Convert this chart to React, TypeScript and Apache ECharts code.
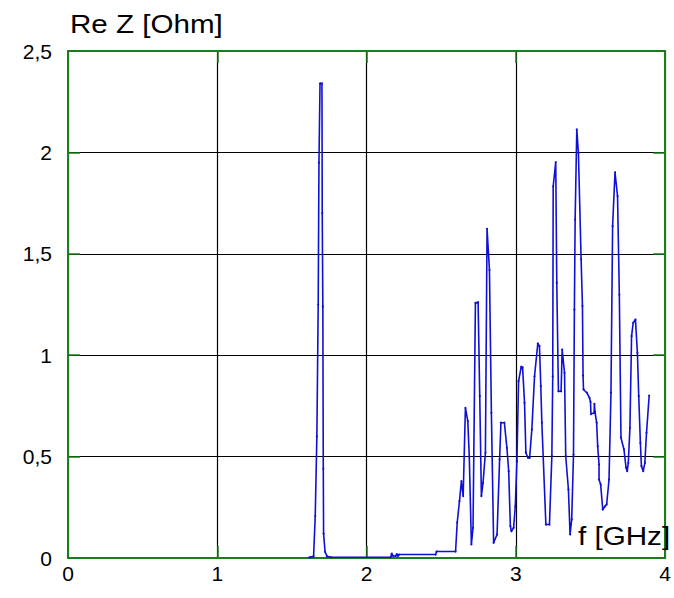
import React, { useEffect, useRef } from "react";
import * as echarts from "echarts";

// Frequency [GHz]
const freq: number[] = [
  1.616, 1.645, 1.656, 1.667, 1.676, 1.681, 1.688, 1.701, 1.703, 1.707, 1.71, 1.712, 1.722, 1.735, 1.76,
  2.162, 2.168, 2.177, 2.195, 2.202, 2.21, 2.217, 2.462, 2.469, 2.596,
  2.607, 2.622, 2.635, 2.647, 2.662, 2.678, 2.688, 2.702, 2.713, 2.729, 2.747, 2.758, 2.769, 2.78, 2.796,
  2.807, 2.823, 2.836, 2.851, 2.874, 2.891, 2.9, 2.923, 2.94, 2.952, 2.963, 2.97, 2.985, 2.996,
  3.007, 3.018, 3.036, 3.045, 3.058, 3.067, 3.081, 3.092, 3.107, 3.125, 3.147, 3.158, 3.167, 3.174,
  3.201, 3.225, 3.241, 3.247, 3.25, 3.267, 3.274, 3.285, 3.303, 3.31, 3.326, 3.334, 3.352, 3.363,
  3.374, 3.386, 3.392, 3.397, 3.408, 3.419, 3.437, 3.446, 3.45, 3.453, 3.475, 3.493, 3.5, 3.503,
  3.524, 3.526, 3.53, 3.541, 3.548, 3.557, 3.557, 3.568, 3.582, 3.597, 3.608, 3.624, 3.637, 3.648,
  3.664, 3.681, 3.693, 3.704, 3.724, 3.738, 3.746, 3.753, 3.764, 3.775, 3.786, 3.801, 3.814, 3.823,
  3.834, 3.841, 3.853, 3.864, 3.875, 3.893,
];

// Re Z [Ohm]
const reZ: number[] = [
  0.003, 0.008, 0.206, 0.6, 1.25, 1.949, 2.34, 2.34, 1.7, 1.24, 0.44, 0.12, 0.03, 0.008, 0.004,
  0.004, 0.022, 0.01, 0.01, 0.019, 0.01, 0.017, 0.017, 0.032, 0.032,
  0.174, 0.28, 0.379, 0.305, 0.74, 0.675, 0.5, 0.067, 0.149, 1.258, 1.261, 0.798, 0.305, 0.371, 0.519,
  1.623, 1.42, 0.716, 0.075, 0.116, 0.486, 0.667, 0.667, 0.543, 0.428, 0.157, 0.132, 0.149, 0.255,
  0.477, 0.872, 0.943, 0.94, 0.765, 0.519, 0.494, 0.494, 0.634, 0.896, 1.058, 1.045, 0.847, 0.667,
  0.165, 0.165, 0.502, 0.896, 1.833, 1.952, 1.357, 0.822, 0.822, 1.028, 0.913, 0.502, 0.338, 0.116,
  0.19, 0.51, 1.225, 1.669, 2.113, 1.998, 1.472, 1.242, 0.9, 0.831, 0.815, 0.79, 0.77, 0.71,
  0.715, 0.76, 0.72, 0.667, 0.551, 0.461, 0.387, 0.362, 0.239, 0.255, 0.264, 0.387, 0.815, 1.636,
  1.902, 1.784, 1.299, 0.593, 0.535, 0.445, 0.428, 0.469, 0.642, 1.094, 1.16, 1.176, 1.012, 0.798,
  0.568, 0.453, 0.428, 0.469, 0.617, 0.801,
];

const xTicks = { min: 0, max: 4, interval: 1 };
const yTicks = { min: 0, max: 2.5, interval: 0.5 };
const yTitle = "Re Z [Ohm]";
const xTitle = "f [GHz]";

const GREEN = "#1b7d1b";
const BLUE = "#1010d4";
const FONT = "'Liberation Sans', Arial, sans-serif";

export default function App() {
  const ref = useRef<HTMLDivElement>(null);

  useEffect(() => {
    if (!ref.current) return;
    const chart = echarts.init(ref.current, undefined, { renderer: "svg" });
    const data = freq.map((f, i) => [f, reZ[i]]);
    const tickStyle = { show: true, inside: true, length: 12, lineStyle: { color: GREEN, width: 1.5 } };
    const axisLine = { show: true, onZero: false, lineStyle: { color: GREEN, width: 2 } };
    const labelStyle = { color: "#000", fontSize: 21, fontFamily: FONT };
    chart.setOption({
      animation: false,
      backgroundColor: "#fff",
      grid: { left: 68, right: 7, top: 51, bottom: 40, containLabel: false },
      xAxis: [
        {
          type: "value",
          ...xTicks,
          position: "bottom",
          axisLine,
          axisTick: tickStyle,
          axisLabel: { ...labelStyle, margin: 5 },
          splitLine: { show: true, lineStyle: { color: "#000", width: 1.2 } },
          z: 3,
        },
        {
          type: "value",
          ...xTicks,
          position: "top",
          axisLine,
          axisTick: tickStyle,
          axisLabel: { show: false },
          splitLine: { show: false },
          z: 3,
        },
      ],
      yAxis: [
        {
          type: "value",
          ...yTicks,
          position: "left",
          axisLine,
          axisTick: tickStyle,
          axisLabel: {
            ...labelStyle,
            margin: 16,
            formatter: (v: number) => String(v).replace(".", ","),
          },
          splitLine: { show: true, lineStyle: { color: "#000", width: 1.2 } },
          z: 3,
        },
        {
          type: "value",
          ...yTicks,
          position: "right",
          axisLine,
          axisTick: tickStyle,
          axisLabel: { show: false },
          splitLine: { show: false },
          z: 3,
        },
      ],
      graphic: [
        {
          type: "text",
          x: 70,
          y: 24,
          scaleX: 1.16,
          style: { text: yTitle, font: `25.5px ${FONT}`, fill: "#000", textAlign: "left", textVerticalAlign: "middle" },
        },
        {
          type: "text",
          x: 578,
          y: 536,
          scaleX: 1.14,
          z: 100,
          style: { text: xTitle, font: `26px ${FONT}`, fill: "#000", textAlign: "left", textVerticalAlign: "middle" },
        },
      ],
      series: [
        {
          type: "line",
          data,
          showSymbol: true,
          symbol: "circle",
          symbolSize: 2,
          itemStyle: { color: BLUE },
          lineStyle: { color: BLUE, width: 1.6 },
          z: 5,
        },
      ],
    });
    return () => chart.dispose();
  }, []);

  return <div ref={ref} style={{ position: "fixed", left: 0, top: 0, width: 674, height: 598 }} />;
}
